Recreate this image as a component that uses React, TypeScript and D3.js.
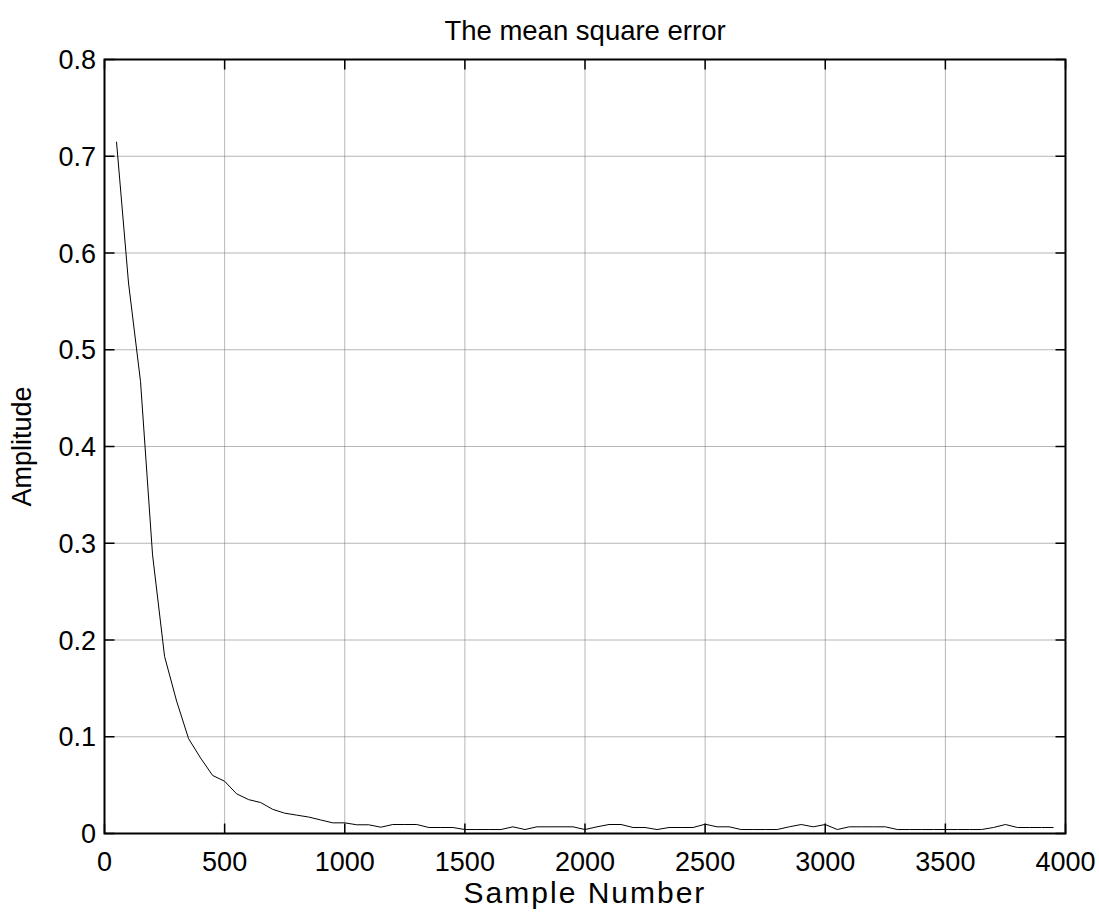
import React from "react";
import * as d3 from "d3";

const title = "The mean square error";
const xLabel = "Sample Number";
const yLabel = "Amplitude";
const xTicks = [0, 500, 1000, 1500, 2000, 2500, 3000, 3500, 4000];
const yTicks = [0, 0.1, 0.2, 0.3, 0.4, 0.5, 0.6, 0.7, 0.8];
const sampleNumbers = [
  50, 100, 150, 200, 250, 300, 350, 400, 450, 500, 550, 600, 650, 700, 750, 800, 850, 900, 950, 1000,
  1050, 1100, 1150, 1200, 1250, 1300, 1350, 1400, 1450, 1500, 1550, 1600, 1650, 1700, 1750, 1800, 1850, 1900, 1950, 2000,
  2050, 2100, 2150, 2200, 2250, 2300, 2350, 2400, 2450, 2500, 2550, 2600, 2650, 2700, 2750, 2800, 2850, 2900, 2950, 3000,
  3050, 3100, 3150, 3200, 3250, 3300, 3350, 3400, 3450, 3500, 3550, 3600, 3650, 3700, 3750, 3800, 3850, 3900, 3950,
];
const mse = [
  0.715, 0.569, 0.467, 0.288, 0.183, 0.137, 0.098, 0.078, 0.06, 0.054, 0.041, 0.035, 0.032, 0.025, 0.021, 0.019, 0.017, 0.014, 0.011, 0.011,
  0.009, 0.009, 0.0065, 0.0093, 0.0093, 0.0093, 0.0062, 0.0062, 0.0062, 0.0041, 0.0041, 0.0041, 0.0041, 0.0069, 0.0041, 0.0069, 0.0069, 0.0069, 0.0069, 0.0041,
  0.0069, 0.0093, 0.0093, 0.0062, 0.0062, 0.0041, 0.0062, 0.0062, 0.0062, 0.0096, 0.0069, 0.0069, 0.0041, 0.0041, 0.0041, 0.0041, 0.0069, 0.0093, 0.0069, 0.0093,
  0.0041, 0.0069, 0.0069, 0.0069, 0.0069, 0.0041, 0.0041, 0.0041, 0.0041, 0.0041, 0.0041, 0.0041, 0.0041, 0.0062, 0.0093, 0.0062, 0.0062, 0.0062, 0.0062,
];

const W = 1099;
const H = 912;
const left = 104.5;
const right = 1065.5;
const top = 59.5;
const bottom = 833.5;
const font = "Arial, 'Liberation Sans', Helvetica, sans-serif";

export default function App() {
  const x = d3.scaleLinear().domain([0, 4000]).range([left, right]);
  const y = d3.scaleLinear().domain([0, 0.8]).range([bottom, top]);
  const pts = sampleNumbers.map((s, i) => [s, mse[i]] as [number, number]);
  const line = d3.line<[number, number]>().x((d) => x(d[0])).y((d) => y(d[1]));
  const tickLen = 10;
  return (
    <svg width={W} height={H} style={{ position: "absolute", left: 0, top: 0, display: "block", background: "#fff" }}>
      <rect x={0} y={0} width={W} height={H} fill="#fff" />
      {xTicks.slice(1, -1).map((t) => (
        <line key={"gx" + t} x1={x(t)} x2={x(t)} y1={top} y2={bottom} stroke="#6e6e6e" strokeWidth={1} strokeDasharray="1,1" />
      ))}
      {yTicks.slice(1, -1).map((t) => (
        <line key={"gy" + t} x1={left} x2={right} y1={y(t)} y2={y(t)} stroke="#6e6e6e" strokeWidth={1} strokeDasharray="1,1" />
      ))}
      <path d={line(pts) || ""} fill="none" stroke="#000" strokeWidth={1} />
      {xTicks.map((t) => (
        <g key={"tx" + t}>
          <line x1={x(t)} x2={x(t)} y1={bottom} y2={bottom - tickLen} stroke="#000" strokeWidth={1.5} />
          <line x1={x(t)} x2={x(t)} y1={top} y2={top + tickLen} stroke="#000" strokeWidth={1.5} />
        </g>
      ))}
      {yTicks.map((t) => (
        <g key={"ty" + t}>
          <line x1={left} x2={left + tickLen} y1={y(t)} y2={y(t)} stroke="#000" strokeWidth={1.5} />
          <line x1={right} x2={right - tickLen} y1={y(t)} y2={y(t)} stroke="#000" strokeWidth={1.5} />
        </g>
      ))}
      <rect x={left} y={top} width={right - left} height={bottom - top} fill="none" stroke="#000" strokeWidth={2} />
      {xTicks.map((t) => (
        <text key={"lx" + t} x={x(t)} y={871} textAnchor="middle" fontFamily={font} fontSize={27} fill="#000">
          {String(t)}
        </text>
      ))}
      {yTicks.map((t) => (
        <text key={"ly" + t} x={96} y={y(t) + 9.5} textAnchor="end" fontFamily={font} fontSize={27} fill="#000">
          {t === 0 ? "0" : d3.format(".1f")(t)}
        </text>
      ))}
      <text x={(left + right) / 2} y={40} textAnchor="middle" fontFamily={font} fontSize={27.5} fill="#000">
        {title}
      </text>
      <text x={(left + right) / 2} y={903} textAnchor="middle" fontFamily={font} fontSize={30} letterSpacing={2} fill="#000">
        {xLabel}
      </text>
      <text transform={`translate(31,${(top + bottom) / 2}) rotate(-90)`} textAnchor="middle" fontFamily={font} fontSize={27} fill="#000">
        {yLabel}
      </text>
    </svg>
  );
}
